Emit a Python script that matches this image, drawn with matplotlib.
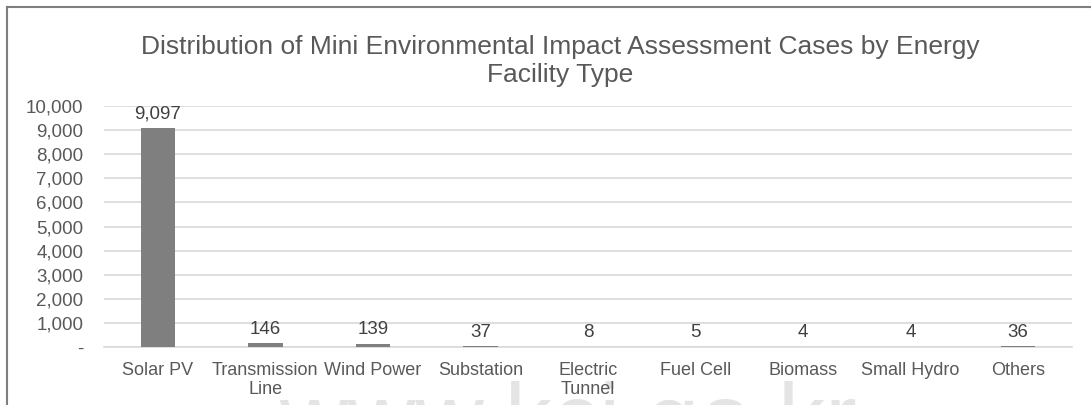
import matplotlib
matplotlib.use("Agg")
import matplotlib.pyplot as plt
from matplotlib.lines import Line2D

categories = ["Solar PV", "Transmission\nLine", "Wind Power", "Substation",
              "Electric\nTunnel", "Fuel Cell", "Biomass", "Small Hydro", "Others"]
values = [9097, 146, 139, 37, 8, 5, 4, 4, 36]
yticks = [0, 1000, 2000, 3000, 4000, 5000, 6000, 7000, 8000, 9000, 10000]
ytick_labels = ["-"] + [f"{v:,}" for v in yticks[1:]]
title = "Distribution of Mini Environmental Impact Assessment Cases by Energy\nFacility Type"

plt.rcParams['font.family'] = ['Liberation Sans', 'DejaVu Sans']
W, H = 1091, 405
fig = plt.figure(figsize=(W / 100, H / 100), dpi=100)
fig.patch.set_facecolor("white")

# watermark (behind everything)
fig.text(568 / W, 1 - 426 / H, "www.kci.go.kr", fontsize=68, color="#e4e4e4",
         ha="center", va="center", zorder=-5)

ax = fig.add_axes([104 / W, 1 - 347 / H, (1072 - 104) / W, (347 - 106) / H])
ax.set_facecolor("none")
ax.set_zorder(2)
x = list(range(len(categories)))
ax.bar(x, values, width=0.32, color="#7f7f7f", zorder=3)
ax.set_xlim(-0.5, len(categories) - 0.5)
ax.set_ylim(0, 10000)
ax.set_yticks(yticks)
ax.set_yticklabels(ytick_labels)
ax.set_xticks(x)
ax.set_xticklabels(categories, linespacing=1.15)
ax.yaxis.grid(True, color="#d9d9d9", linewidth=1.2, zorder=0)
ax.tick_params(axis="both", length=0, labelcolor="#595959")
ax.tick_params(axis="y", pad=15, labelsize=13.5)
ax.tick_params(axis="x", pad=11, labelsize=13)
for s in ["top", "right", "left"]:
    ax.spines[s].set_visible(False)
ax.spines["bottom"].set_color("#d9d9d9")
ax.spines["bottom"].set_linewidth(1.2)

for xi, v in zip(x, values):
    ax.annotate(f"{v:,}", (xi, v), xytext=(0, 4), textcoords="offset points",
                ha="center", va="bottom", fontsize=13.5, color="#404040",
                clip_on=False, zorder=4)

fig.text(560 / W, 1 - 61 / H, title, ha="center", va="center", fontsize=19,
         color="#595959", linespacing=1.25)

# outer frame (top and left edges visible)
fig.add_artist(Line2D([7 / W, 1.0], [1 - 7 / H, 1 - 7 / H], color="#7f7f7f",
                      linewidth=1.5, transform=fig.transFigure))
fig.add_artist(Line2D([7 / W, 7 / W], [1 - 7 / H, 0.0], color="#7f7f7f",
                      linewidth=1.5, transform=fig.transFigure))

fig.savefig("out.png", dpi=100)
